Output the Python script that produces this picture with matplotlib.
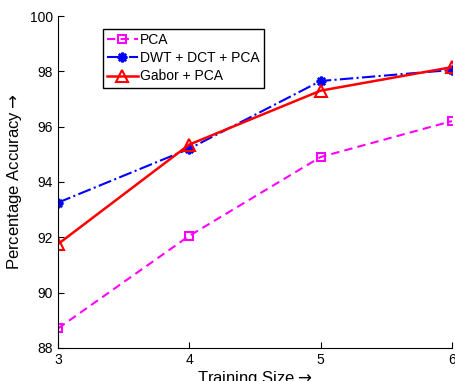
import matplotlib
matplotlib.use('Agg')
import matplotlib.pyplot as plt

plt.rcParams['font.family'] = ['Liberation Sans', 'DejaVu Sans']

training_size = [3, 4, 5, 6]
pca = [88.7, 92.05, 94.9, 96.2]
dwt_dct_pca = [93.25, 95.2, 97.65, 98.05]
gabor_pca = [91.75, 95.35, 97.3, 98.15]

fig = plt.figure(figsize=(4.56, 3.81), dpi=100)
ax = fig.add_axes([0.127, 0.087, 0.864, 0.871])

ax.plot(training_size, pca, color='#ff00ff', linestyle=(0, (4, 2.5)), marker='s',
        markersize=6, markerfacecolor='none', markeredgewidth=1.5, linewidth=1.5, label='PCA')
ax.plot(training_size, dwt_dct_pca, color='#0000ff', linestyle='-.', marker=(8, 2, 0),
        markersize=7, markeredgewidth=1.8, linewidth=1.5, label='DWT + DCT + PCA')
ax.plot(training_size, gabor_pca, color='#ff0000', linestyle='-', marker='^',
        markersize=8, markerfacecolor='none', markeredgewidth=1.5, linewidth=1.8, label='Gabor + PCA')

ax.set_xlim(3, 6)
ax.set_ylim(88, 100)
ax.set_xticks(training_size)
ax.set_yticks([88, 90, 92, 94, 96, 98, 100])
ax.tick_params(direction='in', labelsize=10, length=4)
ax.spines['top'].set_visible(False)
ax.spines['right'].set_visible(False)
ax.set_xlabel('Training Size$\\rightarrow$', fontsize=12, labelpad=2)
ax.set_ylabel('Percentage Accuracy$\\rightarrow$', fontsize=12)

leg = ax.legend(loc='upper left', bbox_to_anchor=(0.114, 0.961), borderaxespad=0,
                fontsize=10, fancybox=False, edgecolor='black', framealpha=1,
                handlelength=2.2, borderpad=0.3, labelspacing=0.3, handletextpad=0.2)
leg.get_frame().set_linewidth(1.0)

fig.savefig('out.png', dpi=100)
